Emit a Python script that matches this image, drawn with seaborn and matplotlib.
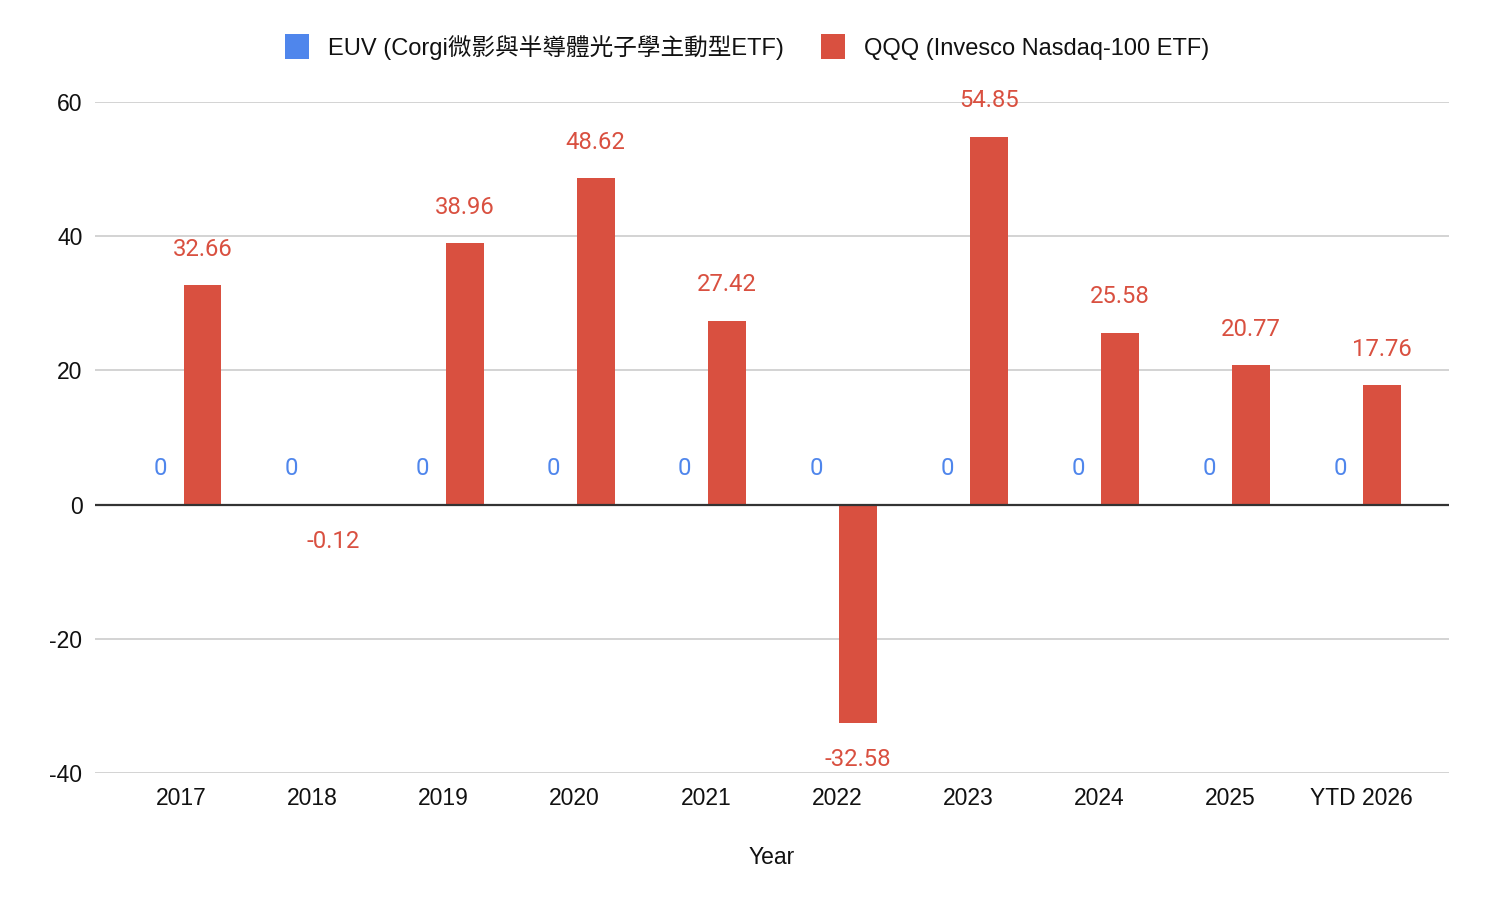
import pandas as pd
import matplotlib.pyplot as plt
import seaborn as sns

# Data
years = ['2017', '2018', '2019', '2020', '2021', '2022', '2023', '2024', '2025', 'YTD 2026']
euv = [0, 0, 0, 0, 0, 0, 0, 0, 0, 0]
qqq = [32.66, -0.12, 38.96, 48.62, 27.42, -32.58, 54.85, 25.58, 20.77, 17.76]
series_names = ['EUV (Corgi微影與半導體光子學主動型ETF)', 'QQQ (Invesco Nasdaq-100 ETF)']
colors = ['#4F86EC', '#D95040']

df = pd.DataFrame({
    'Year': years * 2,
    'Fund': [series_names[0]] * len(years) + [series_names[1]] * len(years),
    'Return': euv + qqq,
})

sns.set_style('white')
plt.rcParams['font.family'] = ['Liberation Sans', 'Noto Sans CJK TC', 'DejaVu Sans']
plt.rcParams['axes.unicode_minus'] = False

fig = plt.figure(figsize=(14.94, 9.14), dpi=100)
ax = fig.add_axes([95 / 1494, 1 - 773 / 914, (1449 - 95) / 1494, (773 - 102) / 914])

sns.barplot(data=df, x='Year', y='Return', hue='Fund', order=years,
            hue_order=series_names, palette=colors, width=0.64, gap=0.1,
            saturation=1, linewidth=0, ax=ax)

ax.set_ylim(-40, 60)
ax.set_xlim(-0.66, len(years) - 1 + 0.67)
ax.set_yticks([-40, -20, 0, 20, 40, 60])
ax.grid(axis='y', color='#CCCCCC', linewidth=1.2)
ax.set_axisbelow(True)
ax.axhline(0, color='#333333', linewidth=1.6, zorder=3)
for s in ax.spines.values():
    s.set_visible(False)
ax.tick_params(axis='both', length=0, labelsize=16.5, colors='#111111')
ax.tick_params(axis='y', pad=9)
ax.tick_params(axis='x', pad=10)
ax.set_ylabel('')
ax.set_xlabel('Year', fontsize=16.5, labelpad=26, color='#111111')

# data labels
for container, color in zip(ax.containers, colors):
    for bar, val in zip(container, container.datavalues):
        x = bar.get_x() + bar.get_width() / 2
        off = 26 if val >= 0 else -26
        ax.annotate(f'{val:g}', (x, val), xytext=(0, off), textcoords='offset points',
                    ha='center', va='center', fontsize=17.2, color=color,
                    family=['Roboto', 'DejaVu Sans'])

handles, labels = ax.get_legend_handles_labels()
ax.get_legend().remove()
fig.legend(handles, labels, loc='center', bbox_to_anchor=(0.5, 1 - 47 / 914), ncol=2,
           frameon=False, fontsize=17.0, handlelength=1.0, handleheight=1.2,
           handletextpad=0.8, columnspacing=1.6, labelcolor='#111111')

fig.savefig('out.png', dpi=100)
